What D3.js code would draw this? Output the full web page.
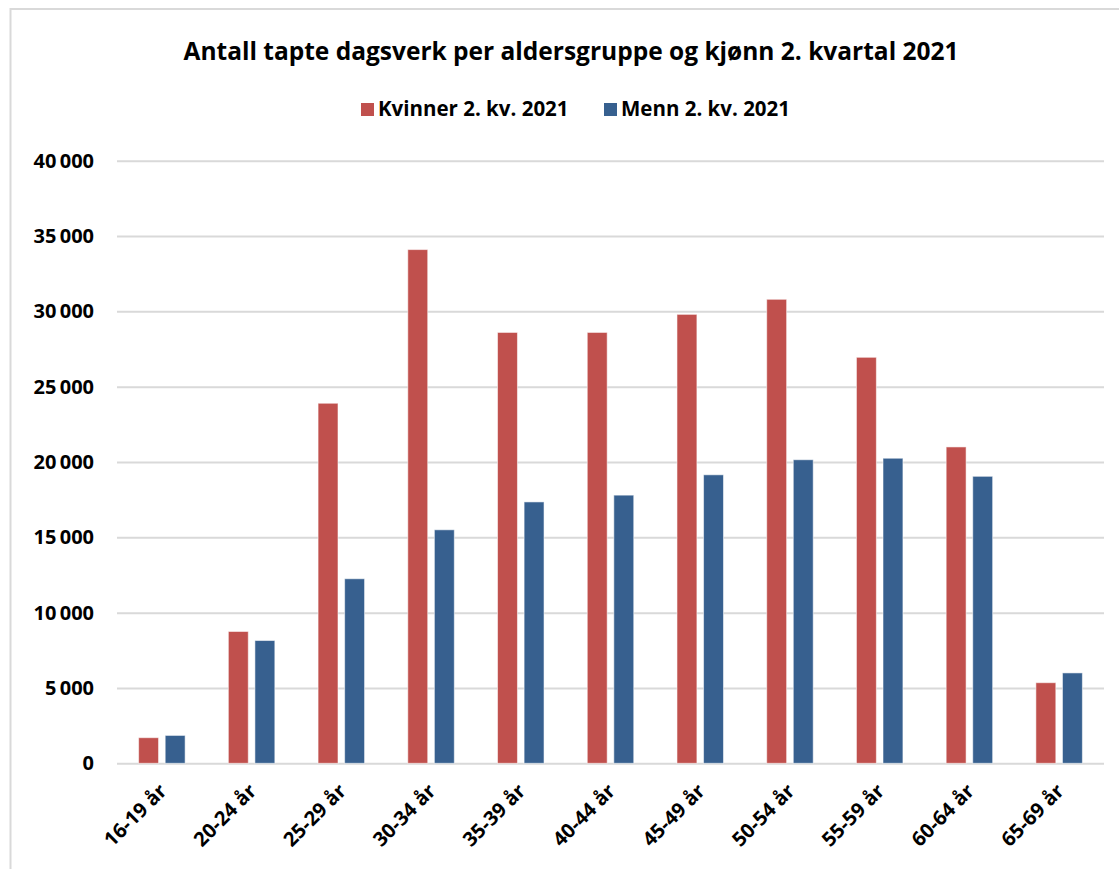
<!DOCTYPE html>
<html>
<head>
<meta charset="utf-8">
<script src="https://cdn.jsdelivr.net/npm/d3@7"></script>
<style>
  body { margin: 0; background: #fff; }
  text { font-family: "Open Sans", "Noto Sans", sans-serif; font-weight: bold; fill: #000; }
</style>
</head>
<body>
<div class="chart"></div>
<script>
var categories = ["16-19 år", "20-24 år", "25-29 år", "30-34 år", "35-39 år", "40-44 år",
                  "45-49 år", "50-54 år", "55-59 år", "60-64 år", "65-69 år"];
var seriesNames = ["Kvinner 2. kv. 2021", "Menn 2. kv. 2021"];
var kvinner = [1700, 8750, 23900, 34100, 28600, 28600, 29800, 30800, 26950, 21000, 5350];
var menn = [1850, 8150, 12250, 15500, 17350, 17800, 19150, 20150, 20250, 19050, 6000];
var yTicks = [0, 5000, 10000, 15000, 20000, 25000, 30000, 35000, 40000];
var colors = ["#C0504D", "#37608F"];

var svgWidth = 1119;
var svgHeight = 869;

var plot = { left: 117, right: 1104, top: 160.7, bottom: 763.3 };

var svg = d3.select(".chart")
    .append("svg")
    .attr("width", svgWidth)
    .attr("height", svgHeight);

svg.append("rect")
    .attr("width", svgWidth)
    .attr("height", svgHeight)
    .attr("fill", "#fff");

// chart frame (only top and left edges are visible)
svg.append("path")
    .attr("d", "M10.5," + svgHeight + " V9 H" + svgWidth)
    .attr("fill", "none")
    .attr("stroke", "#D9D9D9")
    .attr("stroke-width", 2);

var nb = d3.formatLocale({ decimal: ",", thousands: "\u2009", grouping: [3], currency: ["", ""] });
var fmt = nb.format(",d");

var x0 = d3.scaleBand()
    .domain(categories)
    .range([plot.left, plot.right]);

var pairWidth = 46.5;
var x1 = d3.scaleBand()
    .domain(seriesNames)
    .range([(x0.bandwidth() - pairWidth) / 2, (x0.bandwidth() + pairWidth) / 2])
    .paddingInner(0.25);

var y = d3.scaleLinear()
    .domain([0, 40000])
    .range([plot.bottom, plot.top]);

// y axis with gridlines
var yAxis = svg.append("g")
    .attr("transform", `translate(${plot.left}, 0)`)
    .call(d3.axisLeft(y)
        .tickValues(yTicks)
        .tickSize(-(plot.right - plot.left))
        .tickPadding(23)
        .tickFormat(fmt));
yAxis.select(".domain").remove();
yAxis.selectAll(".tick line")
    .attr("stroke", "#D9D9D9")
    .attr("stroke-width", 2);
yAxis.selectAll(".tick text")
    .style("font-size", "20px");

// bars
var data = categories.map(function (c, i) {
    return { cat: c, values: [kvinner[i], menn[i]] };
});

var groups = svg.selectAll(".group")
    .data(data)
    .enter()
    .append("g")
    .attr("class", "group")
    .attr("transform", d => `translate(${x0(d.cat)}, 0)`);

groups.selectAll("rect")
    .data(d => d.values.map((v, j) => ({ name: seriesNames[j], value: v, j: j })))
    .enter()
    .append("rect")
    .attr("x", d => x1(d.name))
    .attr("width", x1.bandwidth())
    .attr("y", d => y(d.value))
    .attr("height", d => y(0) - y(d.value))
    .attr("fill", d => colors[d.j])
    .attr("stroke", "rgba(255,255,255,0.55)")
    .attr("stroke-width", 1);

// x axis labels
var xAxis = svg.append("g")
    .attr("transform", `translate(0, ${plot.bottom})`)
    .call(d3.axisBottom(x0).tickSize(0).tickPadding(0));
xAxis.select(".domain").remove();
xAxis.selectAll(".tick text")
    .style("font-size", "20px")
    .attr("text-anchor", "end")
    .attr("dy", 0)
    .attr("y", 0)
    .attr("transform", "translate(6, 29) rotate(-45)");

// title
svg.append("text")
    .attr("x", 571)
    .attr("y", 60)
    .attr("text-anchor", "middle")
    .style("font-size", "24.5px")
    .text("Antall tapte dagsverk per aldersgruppe og kjønn 2. kvartal 2021");

// legend
var legendX = [361, 604];
var legend = svg.selectAll(".legend")
    .data(seriesNames)
    .enter()
    .append("g")
    .attr("class", "legend")
    .attr("transform", (d, i) => `translate(${legendX[i]}, 103)`);

legend.append("rect")
    .attr("width", 13)
    .attr("height", 13)
    .attr("fill", (d, i) => colors[i]);

legend.append("text")
    .attr("x", 17)
    .attr("y", 12.5)
    .style("font-size", "20.5px")
    .text(d => d);
</script>
</body>
</html>
